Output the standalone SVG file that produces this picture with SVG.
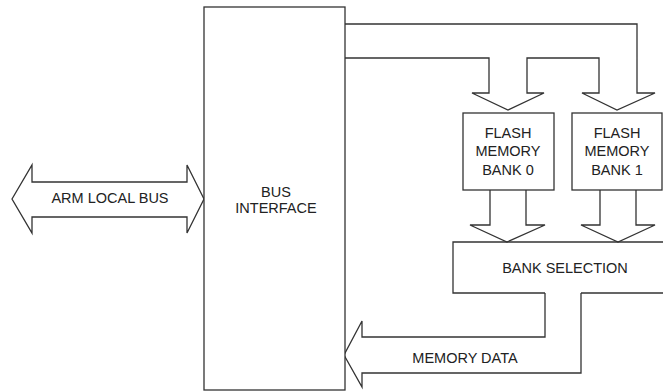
<svg xmlns="http://www.w3.org/2000/svg" width="663" height="392" viewBox="0 0 663 392">
<style>
.s{fill:#fff;stroke:#333;stroke-width:1.3;stroke-linejoin:miter}
.o{fill:none;stroke:#333;stroke-width:1.3}
text{font-family:"Liberation Sans",Arial,sans-serif;font-size:14.5px;fill:#222;text-anchor:middle}
</style>
<rect width="663" height="392" fill="#fff"/>
<g id="connectors">
<path id="arm-local-bus" class="s" d="M12,199 L32,165 L32,182 L187,182 L187,165 L204,199 L187,233 L187,217 L32,217 L32,233 Z"/>
<path id="bus-to-flash" class="o" d="M345,24 L637,24 L637,93 L655,93 L617,110 L582,93 L599,93 L599,58 L527,58 L527,93 L544,93 L508,110 L472,93 L489,93 L489,58 L345,58"/>
<path id="flash0-to-sel" class="s" d="M490,190 L490,225 L470,225 L507,242 L545,225 L526,225 L526,190"/>
<path id="flash1-to-sel" class="s" d="M600,190 L600,225 L581,225 L618,242 L655,225 L636,225 L636,190"/>
<path id="memory-data" class="s" d="M545,293 L545,337 L362,337 L362,321 L344,355 L362,387 L362,373 L581,373 L581,293"/>
</g>
<g id="arm-label"><text x="110" y="203">ARM LOCAL BUS</text></g>
<g id="bus-interface">
<rect class="s" x="204" y="7" width="141" height="383"/>
<text x="276" y="197">BUS</text>
<text x="276" y="213">INTERFACE</text>
</g>
<g id="flash0">
<rect class="s" x="463" y="113" width="91" height="77"/>
<text x="508" y="138">FLASH</text>
<text x="508" y="156">MEMORY</text>
<text x="508" y="175">BANK 0</text>
</g>
<g id="flash1">
<rect class="s" x="572" y="113" width="90" height="77"/>
<text x="617" y="138">FLASH</text>
<text x="617" y="156">MEMORY</text>
<text x="617" y="175">BANK 1</text>
</g>
<g id="bank-selection">
<path d="M454,243 L669,243 L669,292 L454,292 Z" fill="#fff"/>
<path class="o" d="M670,242 L453,242 L453,293 L545,293 M581,293 L670,293"/>
<text x="565" y="273">BANK SELECTION</text>
</g>
<g id="memory-data-label"><text x="465" y="363">MEMORY DATA</text></g>
</svg>
